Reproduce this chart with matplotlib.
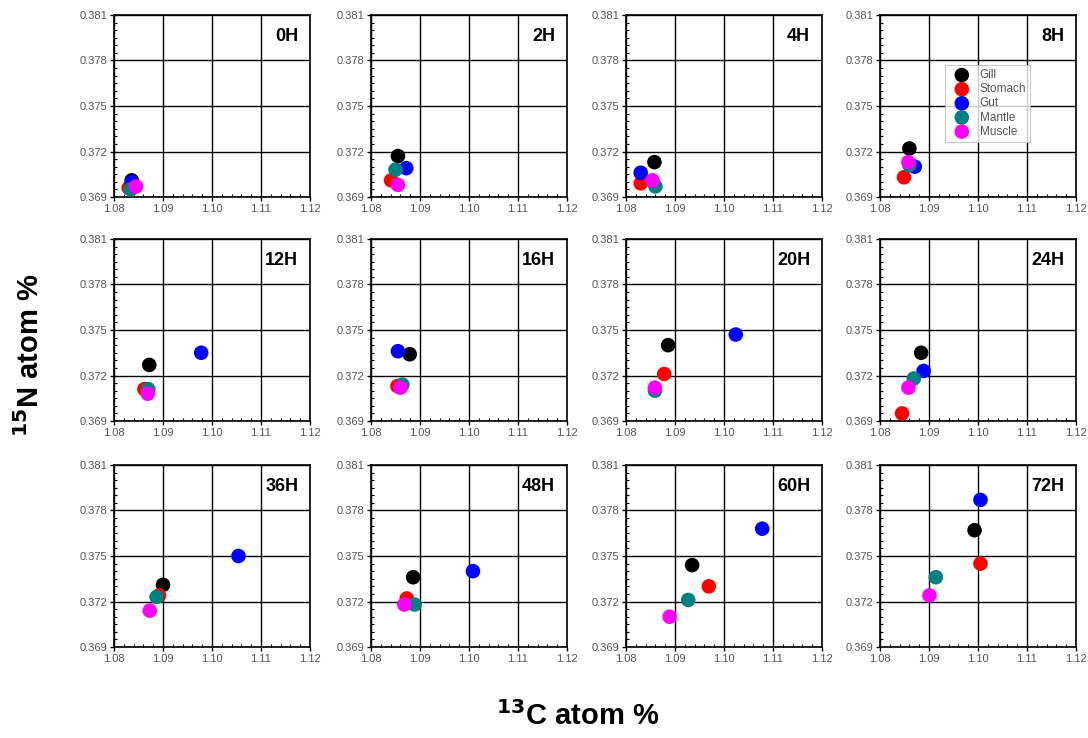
import matplotlib
matplotlib.use("Agg")
import matplotlib.pyplot as plt
from matplotlib.ticker import MultipleLocator, FormatStrFormatter

plt.rcParams['font.family'] = ['Liberation Sans', 'DejaVu Sans']

times = ["0H", "2H", "4H", "8H", "12H", "16H", "20H", "24H", "36H", "48H", "60H", "72H"]
tissues = ["Gill", "Stomach", "Gut", "Mantle", "Muscle"]
colors = ["#000000", "#FF0000", "#0000FF", "#008080", "#FF00FF"]

# 13C atom % per tissue, one value per time point
c_gill    = [1.0836, 1.0855, 1.0858, 1.0860, 1.0872, 1.0879, 1.0886, 1.0884, 1.0900, 1.0886, 1.0935, 1.0993]
c_stomach = [1.0830, 1.0841, 1.0830, 1.0849, 1.0862, 1.0854, 1.0878, 1.0845, 1.0892, 1.0873, 1.0969, 1.1005]
c_gut     = [1.0837, 1.0872, 1.0830, 1.0871, 1.0978, 1.0855, 1.1024, 1.0889, 1.1054, 1.1008, 1.1078, 1.1005]
c_mantle  = [1.0834, 1.0850, 1.0860, 1.0860, 1.0870, 1.0864, 1.0859, 1.0869, 1.0887, 1.0889, 1.0927, 1.0914]
c_muscle  = [1.0845, 1.0855, 1.0854, 1.0858, 1.0869, 1.0860, 1.0859, 1.0858, 1.0873, 1.0868, 1.0889, 1.0901]

# 15N atom % per tissue, one value per time point
n_gill    = [0.3701, 0.3717, 0.3713, 0.3722, 0.3727, 0.3734, 0.3740, 0.3735, 0.3731, 0.3736, 0.3744, 0.3767]
n_stomach = [0.3696, 0.3701, 0.3699, 0.3703, 0.3711, 0.3713, 0.3721, 0.3695, 0.3724, 0.3722, 0.3730, 0.3745]
n_gut     = [0.3700, 0.3709, 0.3706, 0.3710, 0.3735, 0.3736, 0.3747, 0.3723, 0.3750, 0.3740, 0.3768, 0.3787]
n_mantle  = [0.3695, 0.3708, 0.3697, 0.3711, 0.3711, 0.3714, 0.3710, 0.3718, 0.3723, 0.3718, 0.3721, 0.3736]
n_muscle  = [0.3697, 0.3698, 0.3701, 0.3713, 0.3708, 0.3712, 0.3712, 0.3712, 0.3714, 0.3718, 0.3710, 0.3724]

c_data = [c_gill, c_stomach, c_gut, c_mantle, c_muscle]
n_data = [n_gill, n_stomach, n_gut, n_mantle, n_muscle]

x_ticks = [1.08, 1.09, 1.10, 1.11, 1.12]
y_ticks = [0.369, 0.372, 0.375, 0.378, 0.381]

W, H = 1088, 738
fig = plt.figure(figsize=(W / 100, H / 100), dpi=100)

col_left = [114, 371, 626, 880]
row_top = [15, 239, 465]
aw, ah = 196, 182

for i, t in enumerate(times):
    r, c = divmod(i, 4)
    ax = fig.add_axes([col_left[c] / W, 1 - (row_top[r] + ah) / H, aw / W, ah / H])
    for k in range(len(tissues)):
        ax.scatter(c_data[k][i], n_data[k][i], s=110, color=colors[k],
                   edgecolors='none', zorder=3, label=tissues[k])
    ax.set_xlim(x_ticks[0], x_ticks[-1])
    ax.set_ylim(y_ticks[0], y_ticks[-1])
    ax.set_xticks(x_ticks)
    ax.set_yticks(y_ticks)
    ax.xaxis.set_major_formatter(FormatStrFormatter('%.2f'))
    ax.yaxis.set_major_formatter(FormatStrFormatter('%.3f'))
    ax.xaxis.set_minor_locator(MultipleLocator(0.002))
    ax.yaxis.set_minor_locator(MultipleLocator(0.0005))
    ax.grid(True, which='major', color='black', linewidth=1.0, zorder=1)
    ax.set_axisbelow(True)
    ax.tick_params(which='major', direction='out', length=3, width=1,
                   labelsize=8, labelcolor='#555555', pad=2)
    ax.tick_params(which='minor', direction='in', length=2.5, width=0.8)
    for sp in ax.spines.values():
        sp.set_linewidth(1.2)
    ax.text(0.94, 0.88, t, transform=ax.transAxes, ha='right', va='center',
            fontsize=13, fontweight='bold')
    if t == "8H":
        leg = ax.legend(loc='upper left', bbox_to_anchor=(0.33, 0.725),
                        fontsize=8.5, frameon=True, fancybox=False,
                        borderpad=0.35, labelspacing=0.18, handletextpad=0.4,
                        markerscale=1.0, handlelength=2.2, borderaxespad=0)
        leg.get_frame().set_edgecolor('#bbbbbb')
        leg.get_frame().set_linewidth(0.8)
        for txt in leg.get_texts():
            txt.set_color('#555555')

fig.text(30 / W, 1 - 355 / H, r'$^{\mathbf{15}}$N atom %', rotation=90,
         ha='center', va='center', fontsize=21, fontweight='bold')
fig.text(578 / W, 1 - 716 / H, r'$^{\mathbf{13}}$C atom %',
         ha='center', va='center', fontsize=21, fontweight='bold')

fig.savefig('out.png', dpi=100)
